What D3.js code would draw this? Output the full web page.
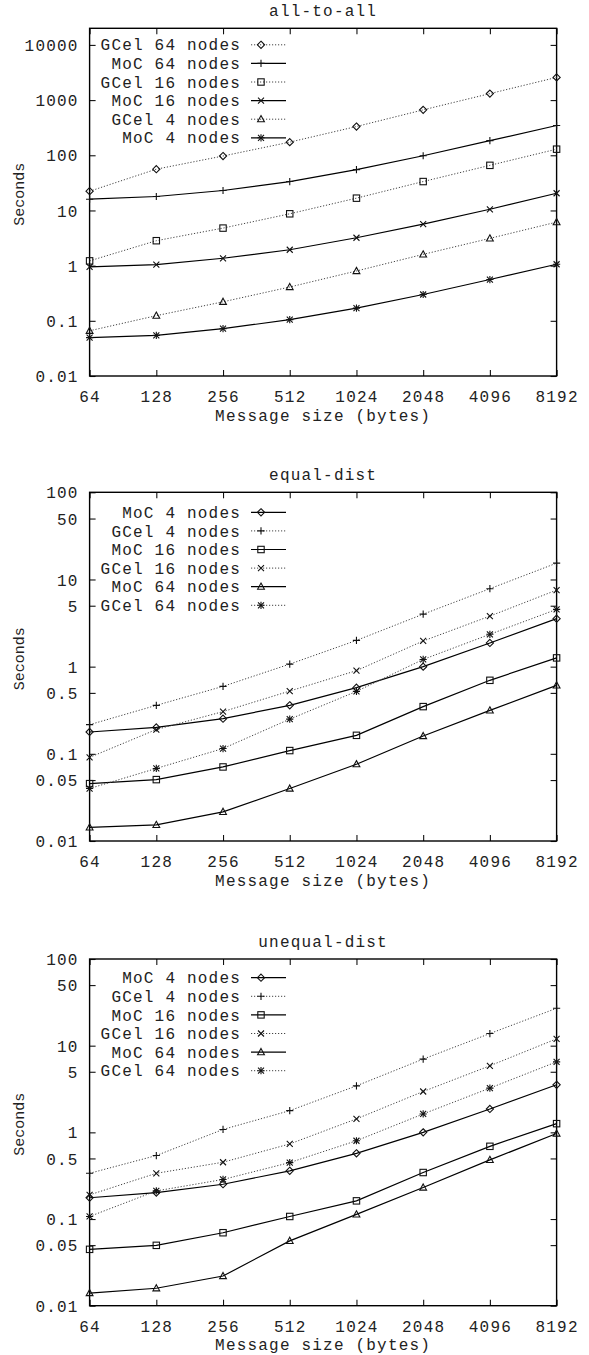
<!DOCTYPE html>
<html lang="en">

<head>
   <meta charset="UTF-8">
   <title>Message size timings</title>
   <script src="https://d3js.org/d3.v7.min.js"></script>
   <style>
      body { margin: 0; background: #fff; }
      text { font-family: "Liberation Mono", "Courier New", monospace; font-size: 16px; fill: #222; }
   </style>
</head>

<body>
   <script>
      // message sizes on the x axis (bytes)
      const sizes = [64, 128, 256, 512, 1024, 2048, 4096, 8192];

      // all-to-all
      const a2aGcel64 = [22.3, 56, 97, 173, 332, 665, 1310, 2580];
      const a2aMoc64 = [16, 17.9, 23, 33.4, 55, 98, 184, 346];
      const a2aGcel16 = [1.22, 2.83, 4.79, 8.7, 16.7, 33.4, 65.7, 129];
      const a2aMoc16 = [0.95, 1.04, 1.36, 1.94, 3.2, 5.66, 10.5, 20.5];
      const a2aGcel4 = [0.066, 0.124, 0.221, 0.41, 0.80, 1.6, 3.12, 6.15];
      const a2aMoc4 = [0.0495, 0.0545, 0.072, 0.105, 0.17, 0.30, 0.56, 1.06];

      // equal-dist
      const eqMoc4 = [0.178, 0.201, 0.253, 0.36, 0.574, 1.0, 1.87, 3.55];
      const eqGcel4 = [0.216, 0.36, 0.594, 1.07, 2.0, 4.0, 7.84, 15.4];
      const eqMoc16 = [0.0455, 0.0506, 0.0707, 0.109, 0.163, 0.348, 0.697, 1.26];
      const eqGcel16 = [0.091, 0.19, 0.305, 0.525, 0.90, 1.97, 3.8, 7.56];
      const eqMoc64 = [0.0143, 0.0153, 0.0216, 0.04, 0.076, 0.16, 0.315, 0.61];
      const eqGcel64 = [0.04, 0.068, 0.115, 0.25, 0.52, 1.21, 2.35, 4.54];

      // unequal-dist
      const uneqMoc4 = [0.176, 0.202, 0.252, 0.36, 0.573, 1.0, 1.86, 3.54];
      const uneqGcel4 = [0.337, 0.54, 1.08, 1.78, 3.44, 7.0, 13.8, 27];
      const uneqMoc16 = [0.0447, 0.0497, 0.0695, 0.107, 0.162, 0.344, 0.69, 1.26];
      const uneqGcel16 = [0.19, 0.337, 0.452, 0.735, 1.43, 2.96, 5.86, 12];
      const uneqMoc64 = [0.014, 0.0159, 0.022, 0.056, 0.113, 0.231, 0.481, 0.97];
      const uneqGcel64 = [0.107, 0.211, 0.286, 0.448, 0.80, 1.63, 3.24, 6.51];

      // y tick labels
      const ticksA2A = [0.01, 0.1, 1, 10, 100, 1000, 10000];
      const ticksDist = [0.01, 0.05, 0.1, 0.5, 1, 5, 10, 50, 100];

      const panels = [
         {
            title: 'all-to-all', top: 28.3, bottom: 376, domain: [0.01, 20000], ticks: ticksA2A, legendTop: 44.8,
            series: [
               { name: 'GCel 64 nodes', values: a2aGcel64, mark: 'diamond', dotted: true },
               { name: 'MoC 64 nodes', values: a2aMoc64, mark: 'plus', dotted: false },
               { name: 'GCel 16 nodes', values: a2aGcel16, mark: 'square', dotted: true },
               { name: 'MoC 16 nodes', values: a2aMoc16, mark: 'cross', dotted: false },
               { name: 'GCel 4 nodes', values: a2aGcel4, mark: 'triangle', dotted: true },
               { name: 'MoC 4 nodes', values: a2aMoc4, mark: 'star', dotted: false }
            ]
         },
         {
            title: 'equal-dist', top: 492.3, bottom: 841, domain: [0.01, 100], ticks: ticksDist, legendTop: 512.3,
            series: [
               { name: 'MoC 4 nodes', values: eqMoc4, mark: 'diamond', dotted: false },
               { name: 'GCel 4 nodes', values: eqGcel4, mark: 'plus', dotted: true },
               { name: 'MoC 16 nodes', values: eqMoc16, mark: 'square', dotted: false },
               { name: 'GCel 16 nodes', values: eqGcel16, mark: 'cross', dotted: true },
               { name: 'MoC 64 nodes', values: eqMoc64, mark: 'triangle', dotted: false },
               { name: 'GCel 64 nodes', values: eqGcel64, mark: 'star', dotted: true }
            ]
         },
         {
            title: 'unequal-dist', top: 959, bottom: 1305.7, domain: [0.01, 100], ticks: ticksDist, legendTop: 977.7,
            series: [
               { name: 'MoC 4 nodes', values: uneqMoc4, mark: 'diamond', dotted: false },
               { name: 'GCel 4 nodes', values: uneqGcel4, mark: 'plus', dotted: true },
               { name: 'MoC 16 nodes', values: uneqMoc16, mark: 'square', dotted: false },
               { name: 'GCel 16 nodes', values: uneqGcel16, mark: 'cross', dotted: true },
               { name: 'MoC 64 nodes', values: uneqMoc64, mark: 'triangle', dotted: false },
               { name: 'GCel 64 nodes', values: uneqGcel64, mark: 'star', dotted: true }
            ]
         }
      ];

      const width = 589;
      const height = 1355;
      const left = 89.6;
      const right = 556.6;

      const svg = d3.select('body').append('svg').attr('width', width).attr('height', height);

      const x = d3.scaleLog().base(2).domain([64, 8192]).range([left, right]);

      // draw a gnuplot style point
      function marker(g, type, cx, cy) {
         const m = g.append('g').attr('transform', `translate(${cx},${cy})`)
            .attr('fill', 'none').attr('stroke', '#111').attr('stroke-width', 1.1);
         if (type === 'diamond') m.append('path').attr('d', 'M0,-3.6L3.6,0L0,3.6L-3.6,0Z');
         if (type === 'square') m.append('rect').attr('x', -3.2).attr('y', -3.2).attr('width', 6.4).attr('height', 6.4);
         if (type === 'triangle') m.append('path').attr('d', 'M0,-3.6L3.4,2.6L-3.4,2.6Z');
         if (type === 'plus' || type === 'star') m.append('path').attr('d', 'M-3.6,0H3.6M0,-3.6V3.6');
         if (type === 'cross' || type === 'star') m.append('path').attr('d', 'M-3,-3L3,3M-3,3L3,-3');
      }

      panels.forEach(p => {
         const y = d3.scaleLog().domain(p.domain).range([p.bottom, p.top]);
         const g = svg.append('g');

         // axes with inward ticks, mirrored on top and right
         const ax = g.append('g').attr('transform', `translate(0,${p.bottom})`)
            .call(d3.axisBottom(x).tickValues(sizes).tickFormat(d => d).tickSize(-6));
         ax.selectAll('text').attr('y', 20.5).attr('dy', '0.35em').style('letter-spacing', '1.2px');
         g.append('g').attr('transform', `translate(0,${p.top})`)
            .call(d3.axisTop(x).tickValues(sizes).tickFormat('').tickSize(-6));

         const ay = g.append('g').attr('transform', `translate(${left},0)`)
            .call(d3.axisLeft(y).tickValues(p.ticks).tickFormat(d => String(d)).tickSize(-6));
         ay.selectAll('text').attr('x', -11).attr('dy', '0.35em').style('letter-spacing', '1.2px');
         g.append('g').attr('transform', `translate(${right},0)`)
            .call(d3.axisRight(y).tickValues(p.ticks).tickFormat('').tickSize(-6));

         g.selectAll('.domain').remove();
         g.selectAll('.tick line').attr('stroke', '#111').attr('stroke-width', 1.1);
         g.selectAll('.tick text').attr('fill', '#222').style('font-size', '16px')
            .style('font-family', '"Liberation Mono", monospace');

         g.append('rect').attr('x', left).attr('y', p.top)
            .attr('width', right - left).attr('height', p.bottom - p.top)
            .attr('fill', 'none').attr('stroke', '#000').attr('stroke-width', 1.4);

         g.append('text').attr('x', (left + right) / 2).attr('y', p.top - 17.5)
            .attr('text-anchor', 'middle').attr('dy', '0.35em').style('letter-spacing', '1.2px').text(p.title);
         g.append('text').attr('x', (left + right) / 2).attr('y', p.bottom + 39)
            .attr('text-anchor', 'middle').attr('dy', '0.35em').style('letter-spacing', '1.2px').text('Message size (bytes)');
         g.append('text')
            .attr('transform', `translate(18.5,${(p.top + p.bottom) / 2 - 8}) rotate(-90)`)
            .attr('text-anchor', 'middle').attr('dy', '0.35em').style('font-size', '15px').text('Seconds');

         const line = d3.line().x((d, i) => x(sizes[i])).y(d => y(d));

         p.series.forEach((s, k) => {
            const col = s.dotted ? '#444' : '#000';
            g.append('path').datum(s.values).attr('d', line)
               .attr('fill', 'none').attr('stroke', col)
               .attr('stroke-width', s.dotted ? 1 : 1.2)
               .attr('stroke-dasharray', s.dotted ? '1.2,1.8' : null);
            s.values.forEach((v, i) => marker(g, s.mark, x(sizes[i]), y(v)));

            // legend entry
            const ly = p.legendTop + k * 18.6;
            g.append('text').attr('x', 241).attr('y', ly).attr('dy', '0.35em')
               .attr('text-anchor', 'end').style('letter-spacing', '1.2px').text(s.name);
            g.append('line').attr('x1', 251).attr('x2', 286).attr('y1', ly).attr('y2', ly)
               .attr('stroke', col).attr('stroke-width', s.dotted ? 1 : 1.2)
               .attr('stroke-dasharray', s.dotted ? '1.2,1.8' : null);
            marker(g, s.mark, 261, ly);
         });
      });
   </script>
</body>

</html>
